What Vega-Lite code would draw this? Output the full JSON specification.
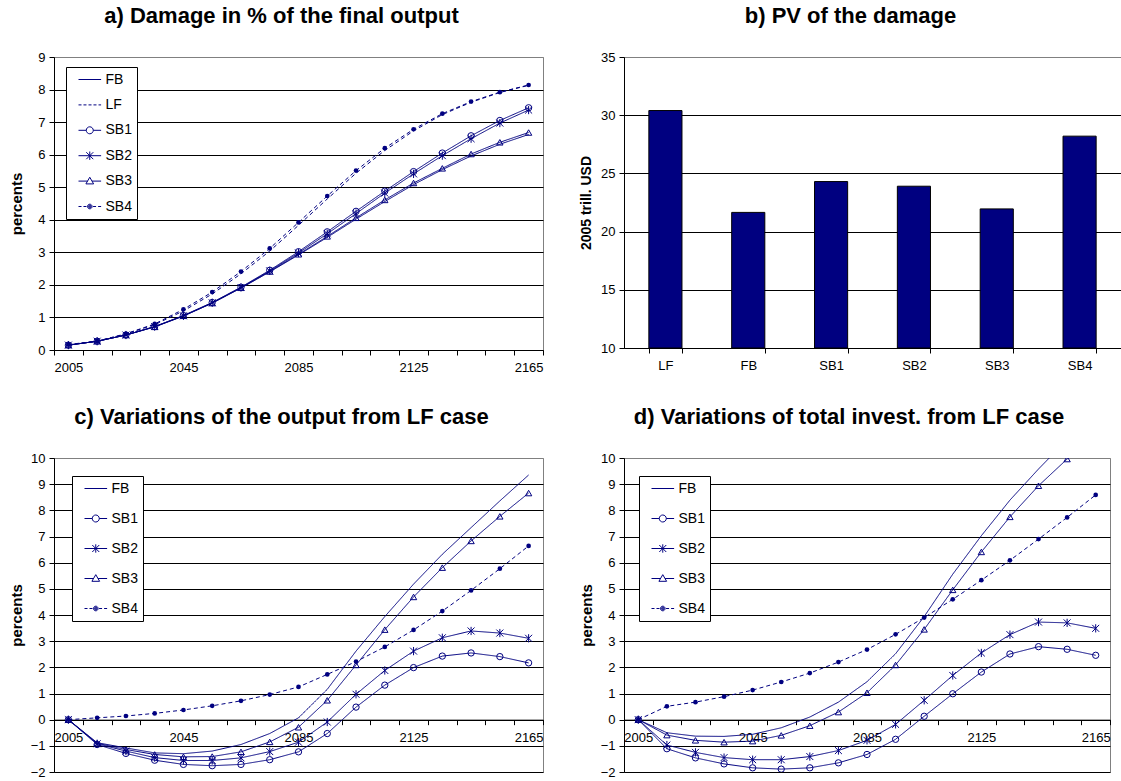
{
"$schema": "https://vega.github.io/schema/vega-lite/v6.json",
"background": "white",
"padding": {"left": 8, "top": 4, "right": 5, "bottom": 0},
"config": {
 "font": "Liberation Sans",
 "view": {"stroke": "#808080", "strokeWidth": 1},
 "axis": {"labelFont": "Liberation Sans", "labelFontSize": 13, "labelColor": "black", "titleFont": "Liberation Sans", "titleFontSize": 15, "titleFontWeight": "bold", "titleColor": "black", "domainColor": "black", "tickColor": "black", "tickSize": 5, "labelPadding": 4, "gridColor": "black", "gridOpacity": 1, "gridWidth": 1},
 "title": {"font": "Liberation Sans", "fontSize": 22, "fontWeight": "bold", "color": "black", "offset": 23, "frame": "group", "baseline": "alphabetic", "anchor": "middle"},
 "legend": {"orient": "none", "title": null, "strokeColor": "black", "fillColor": "white", "padding": 5, "symbolSize": 196, "symbolStrokeWidth": 1, "symbolStrokeColor": "#000080", "symbolOpacity": 1, "labelFont": "Liberation Sans", "labelFontSize": 14, "labelColor": "black", "labelOffset": 19.5, "cornerRadius": 0}
},
"datasets": {
 "a": [
  {"series":"FB","year":2005,"value":0.15},{"series":"FB","year":2015,"value":0.27},{"series":"FB","year":2025,"value":0.46},{"series":"FB","year":2035,"value":0.71},{"series":"FB","year":2045,"value":1.04},{"series":"FB","year":2055,"value":1.44},{"series":"FB","year":2065,"value":1.9},{"series":"FB","year":2075,"value":2.4},{"series":"FB","year":2085,"value":2.92},{"series":"FB","year":2095,"value":3.46},{"series":"FB","year":2105,"value":4.02},{"series":"FB","year":2115,"value":4.56},{"series":"FB","year":2125,"value":5.08},{"series":"FB","year":2135,"value":5.54},{"series":"FB","year":2145,"value":5.96},{"series":"FB","year":2155,"value":6.32},{"series":"FB","year":2165,"value":6.62},
  {"series":"LF","year":2005,"value":0.16},{"series":"LF","year":2015,"value":0.27},{"series":"LF","year":2025,"value":0.49},{"series":"LF","year":2035,"value":0.78},{"series":"LF","year":2045,"value":1.2},{"series":"LF","year":2055,"value":1.72},{"series":"LF","year":2065,"value":2.34},{"series":"LF","year":2075,"value":3.04},{"series":"LF","year":2085,"value":3.83},{"series":"LF","year":2095,"value":4.64},{"series":"LF","year":2105,"value":5.43},{"series":"LF","year":2115,"value":6.13},{"series":"LF","year":2125,"value":6.73},{"series":"LF","year":2135,"value":7.23},{"series":"LF","year":2145,"value":7.61},{"series":"LF","year":2155,"value":7.91},{"series":"LF","year":2165,"value":8.13},
  {"series":"SB1","year":2005,"value":0.15},{"series":"SB1","year":2015,"value":0.27},{"series":"SB1","year":2025,"value":0.46},{"series":"SB1","year":2035,"value":0.72},{"series":"SB1","year":2045,"value":1.06},{"series":"SB1","year":2055,"value":1.46},{"series":"SB1","year":2065,"value":1.93},{"series":"SB1","year":2075,"value":2.45},{"series":"SB1","year":2085,"value":3.02},{"series":"SB1","year":2095,"value":3.63},{"series":"SB1","year":2105,"value":4.26},{"series":"SB1","year":2115,"value":4.88},{"series":"SB1","year":2125,"value":5.48},{"series":"SB1","year":2135,"value":6.05},{"series":"SB1","year":2145,"value":6.58},{"series":"SB1","year":2155,"value":7.05},{"series":"SB1","year":2165,"value":7.44},
  {"series":"SB2","year":2005,"value":0.15},{"series":"SB2","year":2015,"value":0.27},{"series":"SB2","year":2025,"value":0.46},{"series":"SB2","year":2035,"value":0.72},{"series":"SB2","year":2045,"value":1.05},{"series":"SB2","year":2055,"value":1.45},{"series":"SB2","year":2065,"value":1.92},{"series":"SB2","year":2075,"value":2.43},{"series":"SB2","year":2085,"value":2.98},{"series":"SB2","year":2095,"value":3.57},{"series":"SB2","year":2105,"value":4.19},{"series":"SB2","year":2115,"value":4.82},{"series":"SB2","year":2125,"value":5.41},{"series":"SB2","year":2135,"value":5.97},{"series":"SB2","year":2145,"value":6.49},{"series":"SB2","year":2155,"value":6.97},{"series":"SB2","year":2165,"value":7.37},
  {"series":"SB3","year":2005,"value":0.15},{"series":"SB3","year":2015,"value":0.27},{"series":"SB3","year":2025,"value":0.46},{"series":"SB3","year":2035,"value":0.71},{"series":"SB3","year":2045,"value":1.05},{"series":"SB3","year":2055,"value":1.44},{"series":"SB3","year":2065,"value":1.91},{"series":"SB3","year":2075,"value":2.41},{"series":"SB3","year":2085,"value":2.94},{"series":"SB3","year":2095,"value":3.49},{"series":"SB3","year":2105,"value":4.06},{"series":"SB3","year":2115,"value":4.61},{"series":"SB3","year":2125,"value":5.13},{"series":"SB3","year":2135,"value":5.58},{"series":"SB3","year":2145,"value":6.02},{"series":"SB3","year":2155,"value":6.38},{"series":"SB3","year":2165,"value":6.68},
  {"series":"SB4","year":2005,"value":0.17},{"series":"SB4","year":2015,"value":0.27},{"series":"SB4","year":2025,"value":0.5},{"series":"SB4","year":2035,"value":0.8},{"series":"SB4","year":2045,"value":1.25},{"series":"SB4","year":2055,"value":1.78},{"series":"SB4","year":2065,"value":2.41},{"series":"SB4","year":2075,"value":3.12},{"series":"SB4","year":2085,"value":3.92},{"series":"SB4","year":2095,"value":4.73},{"series":"SB4","year":2105,"value":5.51},{"series":"SB4","year":2115,"value":6.2},{"series":"SB4","year":2125,"value":6.78},{"series":"SB4","year":2135,"value":7.26},{"series":"SB4","year":2145,"value":7.63},{"series":"SB4","year":2155,"value":7.92},{"series":"SB4","year":2165,"value":8.14}
 ],
 "c": [
  {"series":"FB","year":2005,"value":0},{"series":"FB","year":2015,"value":-0.88},{"series":"FB","year":2025,"value":-1.08},{"series":"FB","year":2035,"value":-1.27},{"series":"FB","year":2045,"value":-1.3},{"series":"FB","year":2055,"value":-1.2},{"series":"FB","year":2065,"value":-0.95},{"series":"FB","year":2075,"value":-0.53},{"series":"FB","year":2085,"value":0.07},{"series":"FB","year":2095,"value":1.16},{"series":"FB","year":2105,"value":2.62},{"series":"FB","year":2115,"value":3.94},{"series":"FB","year":2125,"value":5.18},{"series":"FB","year":2135,"value":6.32},{"series":"FB","year":2145,"value":7.34},{"series":"FB","year":2155,"value":8.36},{"series":"FB","year":2165,"value":9.35},
  {"series":"SB1","year":2005,"value":0},{"series":"SB1","year":2015,"value":-0.95},{"series":"SB1","year":2025,"value":-1.29},{"series":"SB1","year":2035,"value":-1.55},{"series":"SB1","year":2045,"value":-1.71},{"series":"SB1","year":2055,"value":-1.76},{"series":"SB1","year":2065,"value":-1.71},{"series":"SB1","year":2075,"value":-1.53},{"series":"SB1","year":2085,"value":-1.23},{"series":"SB1","year":2095,"value":-0.53},{"series":"SB1","year":2105,"value":0.48},{"series":"SB1","year":2115,"value":1.32},{"series":"SB1","year":2125,"value":1.99},{"series":"SB1","year":2135,"value":2.43},{"series":"SB1","year":2145,"value":2.55},{"series":"SB1","year":2155,"value":2.41},{"series":"SB1","year":2165,"value":2.17},
  {"series":"SB2","year":2005,"value":0},{"series":"SB2","year":2015,"value":-0.92},{"series":"SB2","year":2025,"value":-1.2},{"series":"SB2","year":2035,"value":-1.45},{"series":"SB2","year":2045,"value":-1.56},{"series":"SB2","year":2055,"value":-1.56},{"series":"SB2","year":2065,"value":-1.46},{"series":"SB2","year":2075,"value":-1.22},{"series":"SB2","year":2085,"value":-0.86},{"series":"SB2","year":2095,"value":-0.09},{"series":"SB2","year":2105,"value":0.97},{"series":"SB2","year":2115,"value":1.88},{"series":"SB2","year":2125,"value":2.62},{"series":"SB2","year":2135,"value":3.13},{"series":"SB2","year":2145,"value":3.39},{"series":"SB2","year":2155,"value":3.31},{"series":"SB2","year":2165,"value":3.11},
  {"series":"SB3","year":2005,"value":0},{"series":"SB3","year":2015,"value":-0.9},{"series":"SB3","year":2025,"value":-1.14},{"series":"SB3","year":2035,"value":-1.33},{"series":"SB3","year":2045,"value":-1.42},{"series":"SB3","year":2055,"value":-1.41},{"series":"SB3","year":2065,"value":-1.23},{"series":"SB3","year":2075,"value":-0.85},{"series":"SB3","year":2085,"value":-0.29},{"series":"SB3","year":2095,"value":0.74},{"series":"SB3","year":2105,"value":2.09},{"series":"SB3","year":2115,"value":3.44},{"series":"SB3","year":2125,"value":4.69},{"series":"SB3","year":2135,"value":5.81},{"series":"SB3","year":2145,"value":6.83},{"series":"SB3","year":2155,"value":7.77},{"series":"SB3","year":2165,"value":8.66},
  {"series":"SB4","year":2005,"value":0},{"series":"SB4","year":2015,"value":0.07},{"series":"SB4","year":2025,"value":0.14},{"series":"SB4","year":2035,"value":0.24},{"series":"SB4","year":2045,"value":0.37},{"series":"SB4","year":2055,"value":0.53},{"series":"SB4","year":2065,"value":0.72},{"series":"SB4","year":2075,"value":0.96},{"series":"SB4","year":2085,"value":1.25},{"series":"SB4","year":2095,"value":1.73},{"series":"SB4","year":2105,"value":2.22},{"series":"SB4","year":2115,"value":2.78},{"series":"SB4","year":2125,"value":3.43},{"series":"SB4","year":2135,"value":4.15},{"series":"SB4","year":2145,"value":4.94},{"series":"SB4","year":2155,"value":5.77},{"series":"SB4","year":2165,"value":6.64}
 ],
 "d": [
  {"series":"FB","year":2005,"value":0},{"series":"FB","year":2015,"value":-0.5},{"series":"FB","year":2025,"value":-0.63},{"series":"FB","year":2035,"value":-0.64},{"series":"FB","year":2045,"value":-0.56},{"series":"FB","year":2055,"value":-0.31},{"series":"FB","year":2065,"value":0.1},{"series":"FB","year":2075,"value":0.67},{"series":"FB","year":2085,"value":1.45},{"series":"FB","year":2095,"value":2.52},{"series":"FB","year":2105,"value":3.94},{"series":"FB","year":2115,"value":5.56},{"series":"FB","year":2125,"value":7.03},{"series":"FB","year":2135,"value":8.39},{"series":"FB","year":2145,"value":9.58},{"series":"FB","year":2155,"value":10.7},{"series":"FB","year":2165,"value":11.8},
  {"series":"SB1","year":2005,"value":0},{"series":"SB1","year":2015,"value":-1.11},{"series":"SB1","year":2025,"value":-1.46},{"series":"SB1","year":2035,"value":-1.69},{"series":"SB1","year":2045,"value":-1.84},{"series":"SB1","year":2055,"value":-1.89},{"series":"SB1","year":2065,"value":-1.84},{"series":"SB1","year":2075,"value":-1.65},{"series":"SB1","year":2085,"value":-1.33},{"series":"SB1","year":2095,"value":-0.75},{"series":"SB1","year":2105,"value":0.13},{"series":"SB1","year":2115,"value":0.99},{"series":"SB1","year":2125,"value":1.82},{"series":"SB1","year":2135,"value":2.51},{"series":"SB1","year":2145,"value":2.79},{"series":"SB1","year":2155,"value":2.69},{"series":"SB1","year":2165,"value":2.46},
  {"series":"SB2","year":2005,"value":0},{"series":"SB2","year":2015,"value":-0.97},{"series":"SB2","year":2025,"value":-1.25},{"series":"SB2","year":2035,"value":-1.45},{"series":"SB2","year":2045,"value":-1.53},{"series":"SB2","year":2055,"value":-1.53},{"series":"SB2","year":2065,"value":-1.41},{"series":"SB2","year":2075,"value":-1.18},{"series":"SB2","year":2085,"value":-0.79},{"series":"SB2","year":2095,"value":-0.18},{"series":"SB2","year":2105,"value":0.74},{"series":"SB2","year":2115,"value":1.69},{"series":"SB2","year":2125,"value":2.55},{"series":"SB2","year":2135,"value":3.25},{"series":"SB2","year":2145,"value":3.73},{"series":"SB2","year":2155,"value":3.7},{"series":"SB2","year":2165,"value":3.49},
  {"series":"SB3","year":2005,"value":0},{"series":"SB3","year":2015,"value":-0.59},{"series":"SB3","year":2025,"value":-0.79},{"series":"SB3","year":2035,"value":-0.86},{"series":"SB3","year":2045,"value":-0.82},{"series":"SB3","year":2055,"value":-0.6},{"series":"SB3","year":2065,"value":-0.23},{"series":"SB3","year":2075,"value":0.29},{"series":"SB3","year":2085,"value":1.03},{"series":"SB3","year":2095,"value":2.09},{"series":"SB3","year":2105,"value":3.45},{"series":"SB3","year":2115,"value":4.96},{"series":"SB3","year":2125,"value":6.41},{"series":"SB3","year":2135,"value":7.75},{"series":"SB3","year":2145,"value":8.94},{"series":"SB3","year":2155,"value":9.96},{"series":"SB3","year":2165,"value":10.9},
  {"series":"SB4","year":2005,"value":0},{"series":"SB4","year":2015,"value":0.51},{"series":"SB4","year":2025,"value":0.67},{"series":"SB4","year":2035,"value":0.88},{"series":"SB4","year":2045,"value":1.13},{"series":"SB4","year":2055,"value":1.44},{"series":"SB4","year":2065,"value":1.78},{"series":"SB4","year":2075,"value":2.2},{"series":"SB4","year":2085,"value":2.68},{"series":"SB4","year":2095,"value":3.26},{"series":"SB4","year":2105,"value":3.9},{"series":"SB4","year":2115,"value":4.6},{"series":"SB4","year":2125,"value":5.33},{"series":"SB4","year":2135,"value":6.09},{"series":"SB4","year":2145,"value":6.9},{"series":"SB4","year":2155,"value":7.73},{"series":"SB4","year":2165,"value":8.59}
 ],
 "b": [
  {"case":"LF","value":30.4},{"case":"FB","value":21.65},{"case":"SB1","value":24.3},{"case":"SB2","value":23.9},{"case":"SB3","value":21.95},{"case":"SB4","value":28.2}
 ]
},
"bounds": "flush",
"columns": 2,
"spacing": {"row": 108, "column": 81},
"concat": [
  {
   "width": 489, "height": 293,
   "title": {"text": "a) Damage in % of the final output", "dx": -17},
   "data": {"name": "a"},
   "encoding": {
    "y": {"field": "value", "type": "quantitative", "scale": {"domain": [0, 9], "nice": false, "zero": false},
          "axis": {"values": [0,1,2,3,4,5,6,7,8,9], "title": "percents", "titlePadding": 13, "gridColor": {"condition": {"test": "datum.value === 9", "value": "#808080"}, "value": "black"}}}
   },
   "layer": [
    {"mark": {"type": "line", "color": "#000080", "strokeWidth": 1},
     "encoding": {
      "x": {"field": "year", "type": "quantitative", "scale": {"domain": [2000, 2170], "nice": false, "zero": false},
            "axis": {"values": [2005,2045,2085,2125,2165], "format": "d", "ticks": false, "grid": false, "title": null, "orient": "bottom", "labelPadding": 11, "labelFlush": false}},
      "detail": {"field": "series"},
      "strokeDash": {"field": "series", "type": "nominal", "scale": {"domain": ["FB","LF","SB1","SB2","SB3","SB4"], "range": [[1,0],[4,3],[1,0],[1,0],[1,0],[4,3]]}, "legend": null}
     }},
    {"transform": [{"filter": {"field": "series", "oneOf": ["SB1","SB2","SB3"]}}],
     "mark": {"type": "point", "filled": false, "color": "#000080", "strokeWidth": 1, "size": 40, "opacity": 1},
     "encoding": {
      "x": {"field": "year", "type": "quantitative", "scale": {"domain": [2000, 2170], "nice": false, "zero": false},
            "axis": {"values": [2000,2010,2020,2030,2040,2050,2060,2070,2080,2090,2100,2110,2120,2130,2140,2150,2160,2170], "labels": false, "domain": false, "ticks": true, "grid": false, "title": null, "orient": "bottom"}},
      "shape": {"field": "series", "type": "nominal", "scale": {"domain": ["SB1","SB2","SB3"], "range": ["circle", "M-1.1,-1.1L1.1,1.1M-1.1,1.1L1.1,-1.1M0,-1.3L0,1.3", "triangle-up"]}, "legend": null}
     }},
    {"transform": [{"filter": {"field": "series", "equal": "SB4"}}],
     "mark": {"type": "circle", "color": "#000080", "size": 22, "opacity": 1},
     "encoding": {
      "x": {"field": "year", "type": "quantitative", "scale": {"domain": [2000, 2170], "nice": false, "zero": false}, "axis": null}
     }},
    {"mark": {"type": "point", "filled": false, "color": "#000080", "opacity": 0},
     "encoding": {
      "x": {"field": "year", "type": "quantitative", "scale": {"domain": [2000, 2170], "nice": false, "zero": false}, "axis": null},
      "shape": {"field": "series", "type": "nominal", "title": null,
        "scale": {"domain": ["FB","LF","SB1","SB2","SB3","SB4"], "range": [
          "M0,0L3.23,0",
          "M0,0L0.43,0M0.71,0L1.14,0M1.43,0L1.86,0M2.14,0L2.57,0M2.86,0L3.23,0",
          "M0,0L1.11,0M2.11,0L3.23,0M2.11,0A0.5,0.5,0,1,1,1.11,0A0.5,0.5,0,1,1,2.11,0",
          "M0,0L3.23,0M1.11,-0.5L2.11,0.5M1.11,0.5L2.11,-0.5M1.61,-0.6L1.61,0.6",
          "M0,0L1.29,0M1.93,0L3.23,0M1.61,-0.55L2.16,0.4L1.06,0.4Z",
          "M0,0L0.43,0M0.71,0L1.14,0M2.08,0L2.51,0M2.8,0L3.23,0M1.94,0A0.33,0.33,0,1,1,1.28,0A0.33,0.33,0,1,1,1.94,0M1.81,0A0.2,0.2,0,1,1,1.41,0A0.2,0.2,0,1,1,1.81,0M1.69,0A0.08,0.08,0,1,1,1.53,0A0.08,0.08,0,1,1,1.69,0"]},
        "legend": {"orient": "none", "legendX": 12, "legendY": 10, "rowPadding": 10.4}}
     }}
   ],
   "resolve": {"scale": {"shape": "independent"}, "axis": {"x": "independent"}}
  },
  {
   "width": 497, "height": 291,
   "title": {"text": "b) PV of the damage", "dx": -22},
   "data": {"name": "b"},
   "mark": {"type": "bar", "color": "#000080", "stroke": "black", "strokeWidth": 1},
   "encoding": {
    "x": {"field": "case", "type": "nominal", "sort": null, "scale": {"paddingInner": 0.6, "paddingOuter": 0.3},
          "axis": {"labelAngle": 0, "tickBand": "extent", "title": null, "grid": false, "labelPadding": 6}},
    "y": {"field": "value", "type": "quantitative", "scale": {"domain": [10, 35], "nice": false, "zero": false},
          "axis": {"values": [10,15,20,25,30,35], "title": "2005 trill. USD", "titleFontSize": 14, "titlePadding": 7, "gridColor": {"condition": {"test": "datum.value === 35", "value": "#808080"}, "value": "black"}}},
    "y2": {"datum": 10}
   }
  },
  {
   "width": 489, "height": 314,
   "title": {"text": "c) Variations of the output from LF case", "dx": -17},
   "data": {"name": "c"},
   "encoding": {
    "y": {"field": "value", "type": "quantitative", "scale": {"domain": [-2, 10], "nice": false, "zero": false},
          "axis": {"values": [-2,-1,0,1,2,3,4,5,6,7,8,9,10], "title": "percents", "titlePadding": 6, "gridColor": {"condition": {"test": "datum.value === 10", "value": "#808080"}, "value": "black"}}}
   },
   "layer": [
    {"mark": {"type": "line", "color": "#000080", "strokeWidth": 1},
     "encoding": {
      "x": {"field": "year", "type": "quantitative", "scale": {"domain": [2000, 2170], "nice": false, "zero": false},
            "axis": {"values": [2005,2045,2085,2125,2165], "format": "d", "ticks": false, "grid": false, "title": null, "orient": "bottom", "offset": -52.33, "labelPadding": 12, "labelFlush": false}},
      "detail": {"field": "series"},
      "strokeDash": {"field": "series", "type": "nominal", "scale": {"domain": ["FB","SB1","SB2","SB3","SB4"], "range": [[1,0],[1,0],[1,0],[1,0],[3,2]]}, "legend": null}
     }},
    {"transform": [{"filter": {"field": "series", "oneOf": ["SB1","SB2","SB3"]}}],
     "mark": {"type": "point", "filled": false, "color": "#000080", "strokeWidth": 1, "size": 40, "opacity": 1},
     "encoding": {
      "x": {"field": "year", "type": "quantitative", "scale": {"domain": [2000, 2170], "nice": false, "zero": false},
            "axis": {"values": [2000,2010,2020,2030,2040,2050,2060,2070,2080,2090,2100,2110,2120,2130,2140,2150,2160,2170], "labels": false, "domain": false, "ticks": true, "grid": false, "title": null, "orient": "bottom", "offset": -52.33}},
      "shape": {"field": "series", "type": "nominal", "scale": {"domain": ["SB1","SB2","SB3"], "range": ["circle", "M-1.1,-1.1L1.1,1.1M-1.1,1.1L1.1,-1.1M0,-1.3L0,1.3", "triangle-up"]}, "legend": null}
     }},
    {"transform": [{"filter": {"field": "series", "equal": "SB4"}}],
     "mark": {"type": "circle", "color": "#000080", "size": 22, "opacity": 1},
     "encoding": {
      "x": {"field": "year", "type": "quantitative", "scale": {"domain": [2000, 2170], "nice": false, "zero": false}, "axis": null}
     }},
    {"mark": {"type": "point", "filled": false, "color": "#000080", "opacity": 0},
     "encoding": {
      "x": {"field": "year", "type": "quantitative", "scale": {"domain": [2000, 2170], "nice": false, "zero": false}, "axis": null},
      "shape": {"field": "series", "type": "nominal", "title": null,
        "scale": {"domain": ["FB","SB1","SB2","SB3","SB4"], "range": [
          "M0,0L3.23,0",
          "M0,0L1.11,0M2.11,0L3.23,0M2.11,0A0.5,0.5,0,1,1,1.11,0A0.5,0.5,0,1,1,2.11,0",
          "M0,0L3.23,0M1.11,-0.5L2.11,0.5M1.11,0.5L2.11,-0.5M1.61,-0.6L1.61,0.6",
          "M0,0L1.29,0M1.93,0L3.23,0M1.61,-0.55L2.16,0.4L1.06,0.4Z",
          "M0,0L0.43,0M0.71,0L1.14,0M2.08,0L2.51,0M2.8,0L3.23,0M1.94,0A0.33,0.33,0,1,1,1.28,0A0.33,0.33,0,1,1,1.94,0M1.81,0A0.2,0.2,0,1,1,1.41,0A0.2,0.2,0,1,1,1.81,0M1.69,0A0.08,0.08,0,1,1,1.53,0A0.08,0.08,0,1,1,1.69,0"]},
        "legend": {"orient": "none", "legendX": 18, "legendY": 18, "rowPadding": 15}}
     }}
   ],
   "resolve": {"scale": {"shape": "independent"}, "axis": {"x": "independent"}}
  },
  {
   "width": 486, "height": 314,
   "title": {"text": "d) Variations of total invest. from LF case", "dx": -18},
   "data": {"name": "d"},
   "encoding": {
    "y": {"field": "value", "type": "quantitative", "scale": {"domain": [-2, 10], "nice": false, "zero": false},
          "axis": {"values": [-2,-1,0,1,2,3,4,5,6,7,8,9,10], "title": "percents", "titlePadding": 6, "gridColor": {"condition": {"test": "datum.value === 10", "value": "#808080"}, "value": "black"}}}
   },
   "layer": [
    {"mark": {"type": "line", "color": "#000080", "strokeWidth": 1, "clip": true},
     "encoding": {
      "x": {"field": "year", "type": "quantitative", "scale": {"domain": [2000, 2170], "nice": false, "zero": false},
            "axis": {"values": [2005,2045,2085,2125,2165], "format": "d", "ticks": false, "grid": false, "title": null, "orient": "bottom", "offset": -52.33, "labelPadding": 12, "labelFlush": false}},
      "detail": {"field": "series"},
      "strokeDash": {"field": "series", "type": "nominal", "scale": {"domain": ["FB","SB1","SB2","SB3","SB4"], "range": [[1,0],[1,0],[1,0],[1,0],[3,2]]}, "legend": null}
     }},
    {"transform": [{"filter": {"field": "series", "oneOf": ["SB1","SB2","SB3"]}}],
     "mark": {"type": "point", "filled": false, "color": "#000080", "strokeWidth": 1, "size": 40, "opacity": 1, "clip": true},
     "encoding": {
      "x": {"field": "year", "type": "quantitative", "scale": {"domain": [2000, 2170], "nice": false, "zero": false},
            "axis": {"values": [2000,2010,2020,2030,2040,2050,2060,2070,2080,2090,2100,2110,2120,2130,2140,2150,2160,2170], "labels": false, "domain": false, "ticks": true, "grid": false, "title": null, "orient": "bottom", "offset": -52.33}},
      "shape": {"field": "series", "type": "nominal", "scale": {"domain": ["SB1","SB2","SB3"], "range": ["circle", "M-1.1,-1.1L1.1,1.1M-1.1,1.1L1.1,-1.1M0,-1.3L0,1.3", "triangle-up"]}, "legend": null}
     }},
    {"transform": [{"filter": {"field": "series", "equal": "SB4"}}],
     "mark": {"type": "circle", "color": "#000080", "size": 22, "opacity": 1, "clip": true},
     "encoding": {
      "x": {"field": "year", "type": "quantitative", "scale": {"domain": [2000, 2170], "nice": false, "zero": false}, "axis": null}
     }},
    {"mark": {"type": "point", "filled": false, "color": "#000080", "opacity": 0, "clip": true},
     "encoding": {
      "x": {"field": "year", "type": "quantitative", "scale": {"domain": [2000, 2170], "nice": false, "zero": false}, "axis": null},
      "shape": {"field": "series", "type": "nominal", "title": null,
        "scale": {"domain": ["FB","SB1","SB2","SB3","SB4"], "range": [
          "M0,0L3.23,0",
          "M0,0L1.11,0M2.11,0L3.23,0M2.11,0A0.5,0.5,0,1,1,1.11,0A0.5,0.5,0,1,1,2.11,0",
          "M0,0L3.23,0M1.11,-0.5L2.11,0.5M1.11,0.5L2.11,-0.5M1.61,-0.6L1.61,0.6",
          "M0,0L1.29,0M1.93,0L3.23,0M1.61,-0.55L2.16,0.4L1.06,0.4Z",
          "M0,0L0.43,0M0.71,0L1.14,0M2.08,0L2.51,0M2.8,0L3.23,0M1.94,0A0.33,0.33,0,1,1,1.28,0A0.33,0.33,0,1,1,1.94,0M1.81,0A0.2,0.2,0,1,1,1.41,0A0.2,0.2,0,1,1,1.81,0M1.69,0A0.08,0.08,0,1,1,1.53,0A0.08,0.08,0,1,1,1.69,0"]},
        "legend": {"orient": "none", "legendX": 15, "legendY": 18, "rowPadding": 15}}
     }}
   ],
   "resolve": {"scale": {"shape": "independent"}, "axis": {"x": "independent"}}
  }
]
}
